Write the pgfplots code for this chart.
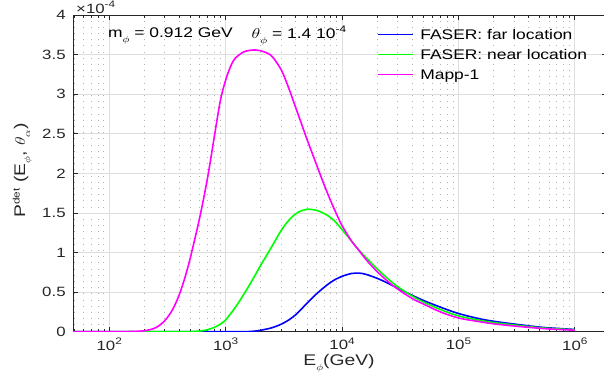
\documentclass[border=0pt]{standalone}
\usepackage{pgfplots}
\usepackage{pgfplotstable}
\pgfplotsset{compat=1.18}
\usepackage{fontspec}
\setmainfont{Liberation Sans}
\usepackage{graphicx}

\newcommand{\sx}[1]{\scalebox{1.25}[1]{#1}}
\newcommand{\sub}[1]{\raisebox{-5bp}{\fontsize{9.5}{10}\selectfont #1}}
\newcommand{\sups}[1]{\raisebox{5.5bp}{\fontsize{9.5}{10}\selectfont #1}}

\definecolor{mgrid}{gray}{0.87}
\definecolor{mingrid}{gray}{0.70}
\definecolor{axc}{gray}{0.15}
\definecolor{cblue}{rgb}{0,0,1}
\definecolor{cgreen}{rgb}{0,1,0}
\definecolor{cmag}{rgb}{1,0,1}

\pgfplotstableread{
E v
49.1 0
1000 0
1400 0
1600 0.002
1800 0.008
2000 0.018
2500 0.05
3000 0.095
3500 0.15
4000 0.215
4500 0.29
5000 0.36
6000 0.475
7000 0.56
8000 0.625
9000 0.67
10000 0.70
12000 0.735
14000 0.74
16000 0.725
20000 0.675
25000 0.61
30000 0.55
40000 0.46
50000 0.395
70000 0.31
100000 0.23
150000 0.165
200000 0.132
300000 0.097
500000 0.058
700000 0.042
1000000 0.028
}\far

\pgfplotstableread{
E v
49.1 0
400 0
500 0.001
600 0.008
700 0.025
800 0.055
900 0.095
1000 0.15
1200 0.30
1400 0.45
1600 0.59
1800 0.72
2000 0.84
2500 1.08
3000 1.28
3500 1.41
4000 1.49
4500 1.53
5000 1.548
6000 1.535
7000 1.495
8000 1.44
9000 1.37
10000 1.29
12000 1.15
14000 1.03
16000 0.94
20000 0.795
25000 0.665
30000 0.57
40000 0.45
50000 0.375
70000 0.28
100000 0.20
150000 0.145
200000 0.116
300000 0.085
500000 0.05
700000 0.036
1000000 0.024
}\near

\pgfplotstableread{
E v
49.1 0
100 0
150 0.002
200 0.012
250 0.05
300 0.14
350 0.28
400 0.47
450 0.70
500 0.95
600 1.45
700 1.95
800 2.47
900 2.92
1000 3.18
1100 3.35
1200 3.45
1400 3.53
1600 3.555
1800 3.56
2000 3.55
2200 3.53
2500 3.48
3000 3.31
3500 3.07
4000 2.83
4500 2.62
5000 2.43
6000 2.12
7000 1.86
8000 1.65
9000 1.48
10000 1.34
12000 1.15
14000 1.025
16000 0.915
20000 0.76
25000 0.63
30000 0.54
40000 0.42
50000 0.35
70000 0.25
100000 0.174
150000 0.128
200000 0.10
300000 0.072
500000 0.043
700000 0.03
1000000 0.019
}\mapp

\begin{document}
\begin{tikzpicture}
\begin{axis}[
  at={(73.3bp,51.3bp)}, anchor=south west,
  scale only axis, width=533.7bp, height=316.5bp,
  xmode=log, xmin=49.1, xmax=1.888e6, ymin=0, ymax=4,
  xtick={100,1000,10000,100000,1000000},
  xticklabels={\sx{10\sups{2}},\sx{10\sups{3}},\sx{10\sups{4}},\sx{10\sups{5}},\sx{10\sups{6}}},
  minor xtick={50,60,70,80,90,200,300,400,500,600,700,800,900,2000,3000,4000,5000,6000,7000,8000,9000,20000,30000,40000,50000,60000,70000,80000,90000,200000,300000,400000,500000,600000,700000,800000,900000},
  ytick={0,0.5,1,1.5,2,2.5,3,3.5,4},
  yticklabels={\sx{0},\sx{0.5},\sx{1},\sx{1.5},\sx{2},\sx{2.5},\sx{3},\sx{3.5},\sx{4}},
  xticklabel style={font=\fontsize{13.5}{15}\selectfont, anchor=north, inner sep=0pt, yshift=-6bp, text=axc},
  yticklabel style={font=\fontsize{13.5}{15}\selectfont, anchor=east, inner sep=0pt, xshift=-7.5bp, text=axc},
  tick align=inside,
  major tick length=5bp, minor tick length=3bp,
  tick style={axc, line width=0.8bp},
  axis line style={axc, line width=1bp},
  xmajorgrids=true, xminorgrids=true, ymajorgrids=true,
  major grid style={mgrid, line width=0.8bp},
  minor grid style={mingrid, line width=0.9bp, dash pattern=on 1bp off 5.2bp},
  legend style={at={(0.5685,0.9542)}, anchor=north west, draw=none, fill=none,
    inner sep=0pt, outer sep=0pt, font=\fontsize{14}{16}\selectfont,
    column sep=7bp, row sep=7bp,
    nodes={inner sep=0pt, text height=10bp, text depth=3bp, anchor=base west}},
  legend cell align=left,
  legend image code/.code={\draw[#1] (0bp,5bp) -- (35bp,5bp);},
]
\addplot[cblue, line width=1.6bp, smooth, tension=0.55] table[x=E, y=v] {\far};
\addlegendentry{\sx{FASER: far location}}
\addplot[cgreen, line width=1.6bp, smooth, tension=0.55] table[x=E, y=v] {\near};
\addlegendentry{\sx{FASER: near location}}
\addplot[cmag, line width=1.6bp, smooth, tension=0.55] table[x=E, y=v] {\mapp};
\addlegendentry{\sx{Mapp-1}}
\end{axis}
\node[anchor=base west, inner sep=0pt, font=\fontsize{13.5}{15}\selectfont, text=axc] at (76bp,369.7bp) {\sx{×10\sups{-4}}};
\node[anchor=base west, inner sep=0pt, font=\fontsize{14}{16}\selectfont] at (108bp,345bp) {\sx{m\sub{$\phi$} = 0.912 GeV}};
\node[anchor=base west, inner sep=0pt, font=\fontsize{14}{16}\selectfont] at (251.5bp,344.5bp) {\sx{$\theta$\sub{$\phi$} = 1.4 10\sups{-4}}};
\node[anchor=base, inner sep=0pt, font=\fontsize{15.5}{17}\selectfont, text=axc] at (339bp,18bp) {\sx{E\sub{$\phi$}(GeV)}};
\node[rotate=90, anchor=base, inner sep=0pt, font=\fontsize{15.5}{17}\selectfont, text=axc] at (25bp,212.5bp) {\sx{P\sups{det} (E\sub{$\phi$}, $\theta$\sub{$\alpha$})}};
\pgfresetboundingbox
\useasboundingbox (0,0) rectangle (604bp,383bp);
\end{tikzpicture}
\end{document}
